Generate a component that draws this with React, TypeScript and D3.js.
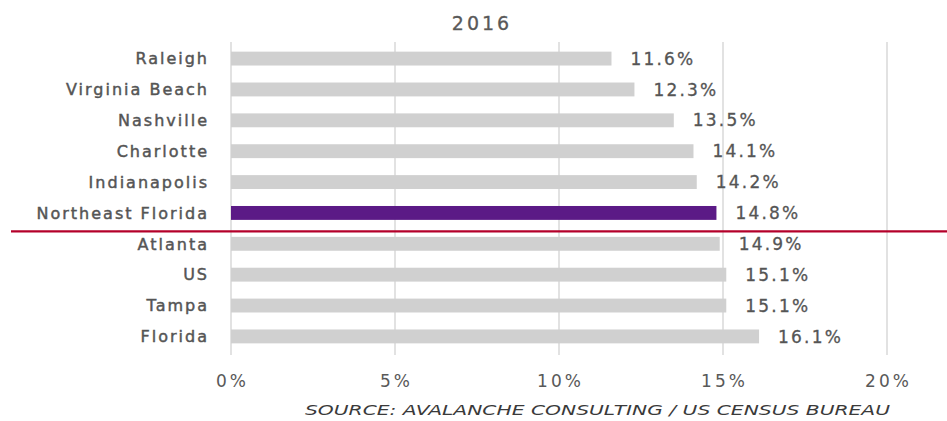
import React from "react";
import * as d3 from "d3";

const categories = ["Raleigh", "Virginia Beach", "Nashville", "Charlotte", "Indianapolis", "Northeast Florida", "Atlanta", "US", "Tampa", "Florida"];
const values = [11.6, 12.3, 13.5, 14.1, 14.2, 14.8, 14.9, 15.1, 15.1, 16.1];
const highlight = "Northeast Florida";
const xTicks = [0, 5, 10, 15, 20];
const title = "2016";
const source = "SOURCE: AVALANCHE CONSULTING / US CENSUS BUREAU";

const W = 947;
const H = 421;
const FONT = "'DejaVu Sans', sans-serif";

export default function App() {
  const x = d3.scaleLinear().domain([0, 20]).range([231, 887]);
  const y = d3.scaleBand().domain(categories).range([43, 352]).paddingInner(0.55).paddingOuter(0.28);
  const bh = y.bandwidth();
  const sepY = ((y(highlight) as number) + bh + (y(categories[categories.indexOf(highlight) + 1]) as number)) / 2 + 3;
  const catLs = 2;
  const tickLs = 3;
  return (
    <svg width={W} height={H} style={{ position: "absolute", left: 0, top: 0, background: "#fff" }}>
      <rect x={0} y={0} width={W} height={H} fill="#fff" />
      <text x={482} y={30} textAnchor="middle" fontFamily={FONT} fontSize={19} fill="#595959" stroke="#595959" strokeWidth={0.3} letterSpacing={3}>{title}</text>
      {xTicks.map((t) => (
        <line key={"g" + t} x1={x(t)} x2={x(t)} y1={42} y2={355} stroke="#d9d9d9" strokeWidth={1.5} />
      ))}
      {categories.map((c, i) => (
        <g key={c}>
          <rect x={x(0)} y={y(c)} width={x(values[i]) - x(0)} height={bh} fill={c === highlight ? "#5b1a86" : "#d0d0d0"} />
          <text x={207 + catLs} y={(y(c) as number) + bh / 2} dy="0.36em" textAnchor="end" fontFamily={FONT} fontSize={16} fill="#555" stroke="#555" strokeWidth={0.45} letterSpacing={catLs}>{c}</text>
          <text x={x(values[i]) + 19} y={(y(c) as number) + bh / 2} dy="0.36em" fontFamily={FONT} fontSize={17} fill="#555" stroke="#555" strokeWidth={0.3} letterSpacing={2.2}>{values[i].toFixed(1) + "%"}</text>
        </g>
      ))}
      <line x1={11} x2={W} y1={sepY} y2={sepY} stroke="#b4002a" strokeWidth={2.2} />
      {xTicks.map((t) => (
        <text key={"t" + t} x={x(t) + tickLs / 2} y={387} textAnchor="middle" fontFamily={FONT} fontSize={17} fill="#595959" letterSpacing={tickLs}>{t + "%"}</text>
      ))}
      <text x={890} y={415} textAnchor="end" fontFamily={FONT} fontSize={13.5} fontStyle="italic" fill="#3a3a3a" textLength={585} lengthAdjust="spacingAndGlyphs">{source}</text>
    </svg>
  );
}
